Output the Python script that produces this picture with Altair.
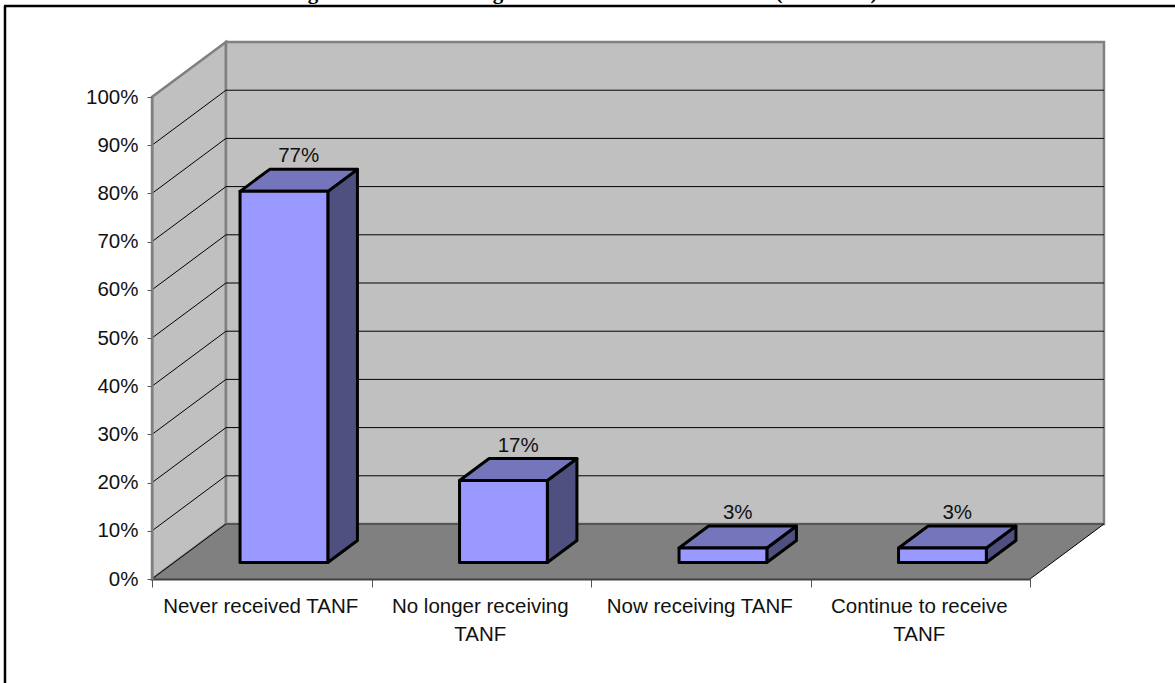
import altair as alt
import pandas as pd

# Survey results
categories = ["Never received TANF", "No longer receiving\nTANF", "Now receiving TANF", "Continue to receive\nTANF"]
values = [77, 17, 3, 3]
y_ticks = [0, 10, 20, 30, 40, 50, 60, 70, 80, 90, 100]
x_ticks = [0, 1, 2, 3, 4]
heading_glyphs = ["g", "g", "(", ")"]
heading_x = [313, 498, 779, 874]

# Oblique projection: one unit of depth shifts a point along both axes
SHIFT_X = 0.337
SHIFT_Y = 11.41
BAR_GAP = 0.3
DEPTH_NEAR, DEPTH_FAR = 0.3, 0.7


def px(c, d):
    return c + SHIFT_X * d


def py(v, d):
    return v + SHIFT_Y * d


FONT = "Liberation Sans"
LEFT, TOP = 152, 97
sx = alt.Scale(domain=[0, 4], nice=False, zero=False)
sy = alt.Scale(domain=[0, 100], nice=False, zero=False)
x_axis = alt.Axis(values=x_ticks, labels=False, title=None, grid=False, tickSize=8, tickColor="#555555",
                  tickWidth=1, domainColor="#404040", domainWidth=2, zindex=1)
y_axis = alt.Axis(values=y_ticks, labelExpr="datum.value + '%'", title=None, grid=False, tickSize=5,
                  tickColor="#555555", tickWidth=1, domainColor="#808080", domainWidth=2,
                  labelFont=FONT, labelFontSize=20.5, labelColor="#111111", labelPadding=9, zindex=1)
X = alt.X("x:Q", scale=sx, axis=x_axis)
Y = alt.Y("y:Q", scale=sy, axis=y_axis)


def vertical(rows, **style):
    """Parallelogram with vertical ends: rows of x, y, y2."""
    df = pd.DataFrame(rows, columns=["k", "x", "y", "y2"])
    return alt.Chart(df).mark_area(**style).encode(X, Y, alt.Y2("y2:Q"), detail="k:N")


def horizontal(rows, **style):
    """Parallelogram with horizontal ends: rows of y, x, x2."""
    df = pd.DataFrame(rows, columns=["k", "y", "x", "x2"])
    return alt.Chart(df).mark_area(orient="horizontal", **style).encode(X, Y, alt.X2("x2:Q"), detail="k:N")


def lines(rows, **style):
    df = pd.DataFrame(rows, columns=["k", "x", "y"])
    return alt.Chart(df).mark_line(**style).encode(X, Y, detail="k:N")


# Walls and floor
wall = {"fill": "#C0C0C0", "stroke": "#808080", "strokeWidth": 2.5}
side_wall = vertical([("s", px(0, 0), py(0, 0), py(100, 0)), ("s", px(0, 1), py(0, 1), py(100, 1))], **wall)
back_wall = vertical([("b", px(0, 1), py(0, 1), py(100, 1)), ("b", px(4, 1), py(0, 1), py(100, 1))], **wall)
floor = horizontal([("f", py(0, 0), px(0, 0), px(4, 0)), ("f", py(0, 1), px(0, 1), px(4, 1))], fill="#808080")

# Gridlines run across the back wall and slant down the side wall
grid_rows = []
for t in y_ticks[1:-1]:
    grid_rows += [(f"b{t}", px(0, 1), py(t, 1)), (f"b{t}", px(4, 1), py(t, 1))]
    grid_rows += [(f"s{t}", px(0, 0), py(t, 0)), (f"s{t}", px(0, 1), py(t, 1))]
grid = lines(grid_rows, color="#000000", strokeWidth=1)
floor_edges = lines(
    [("l", px(0, 0), py(0, 0)), ("l", px(0, 1), py(0, 1)),
     ("r", px(4, 0), py(0, 0)), ("r", px(4, 1), py(0, 1))],
    color="#000000", strokeWidth=1)
floor_back = lines([("e", px(0, 1), py(0, 1)), ("e", px(4, 1), py(0, 1))], color="#555555", strokeWidth=2)

# Bars: side face, top face, front face
side_rows, top_rows, front_rows, label_rows, cat_rows = [], [], [], [], []
for i, (name, v) in enumerate(zip(categories, values)):
    left, right = i + BAR_GAP, i + 1 - BAR_GAP
    side_rows += [(i, px(right, DEPTH_NEAR), py(0, DEPTH_NEAR), py(v, DEPTH_NEAR)),
                  (i, px(right, DEPTH_FAR), py(0, DEPTH_FAR), py(v, DEPTH_FAR))]
    top_rows += [(i, py(v, DEPTH_NEAR), px(left, DEPTH_NEAR), px(right, DEPTH_NEAR)),
                 (i, py(v, DEPTH_FAR), px(left, DEPTH_FAR), px(right, DEPTH_FAR))]
    front_rows += [(i, px(left, DEPTH_NEAR), py(0, DEPTH_NEAR), py(v, DEPTH_NEAR)),
                   (i, px(right, DEPTH_NEAR), py(0, DEPTH_NEAR), py(v, DEPTH_NEAR))]
    label_rows.append({"x": px(i + 0.5, 0.5), "y": py(v, 0.5), "t": f"{v}%"})
    cat_rows.append({"x": i + 0.5, "y": 0, "t": name})

edge = {"stroke": "#000000", "strokeWidth": 3, "strokeJoin": "round"}
bar_side = vertical(side_rows, fill="#4F4F80", **edge)
bar_top = horizontal(top_rows, fill="#7575BC", **edge)
bar_front = vertical(front_rows, fill="#9999FF", **edge)

value_labels = alt.Chart(pd.DataFrame(label_rows)).mark_text(
    font=FONT, fontSize=20.5, color="#111111", baseline="middle", dy=-24
).encode(X, Y, text="t:N")
category_labels = alt.Chart(pd.DataFrame(cat_rows)).mark_text(
    font=FONT, fontSize=20.5, color="#111111", baseline="top", dy=18, dx=-1, lineBreak="\n", lineHeight=28
).encode(X, Y, text="t:N")

# Text frame around the figure, with the heading line running off the page above it
frame_top = alt.Chart().mark_rule(color="#000000", strokeWidth=2.5).encode(
    x=alt.value(4 - LEFT), x2=alt.value(1175 - LEFT), y=alt.value(6 - TOP))
frame_left = alt.Chart().mark_rule(color="#000000", strokeWidth=2.5).encode(
    x=alt.value(5 - LEFT), y=alt.value(6 - TOP), y2=alt.value(683 - TOP))
heading = [
    alt.Chart().mark_text(text=glyph, font="Liberation Serif", fontWeight="bold", fontSize=21,
                          color="#000000", baseline="alphabetic", align="center").encode(
        x=alt.value(gx - LEFT), y=alt.value(-1 - TOP))
    for glyph, gx in zip(heading_glyphs, heading_x)
]

chart = alt.layer(
    side_wall, back_wall, floor, floor_back, floor_edges, grid,
    bar_side, bar_top, bar_front, value_labels, category_labels,
    frame_top, frame_left, *heading,
).properties(
    width=878, height=482,
    padding={"left": LEFT, "top": TOP, "right": 145, "bottom": 104},
    autosize=alt.AutoSizeParams(type="none"),
    background="#FFFFFF",
).configure_view(stroke=None)

chart.save("out.html", embed_options={"renderer": "svg", "actions": False})
